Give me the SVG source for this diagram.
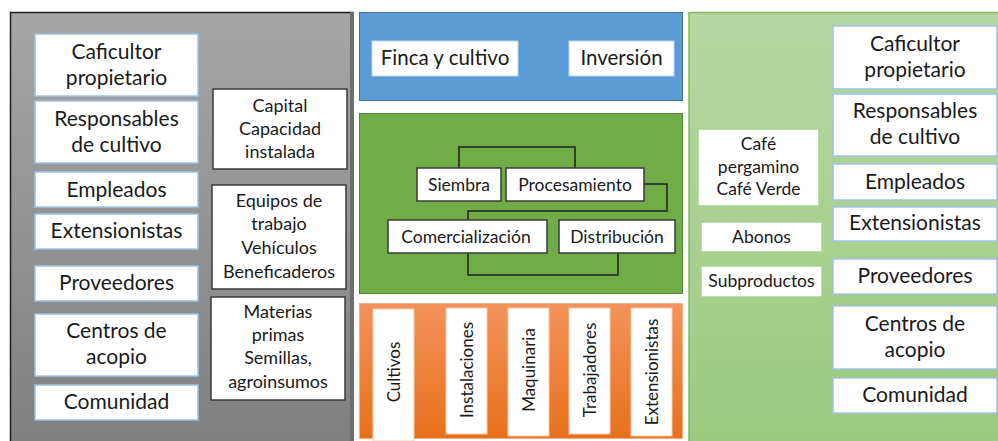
<svg xmlns="http://www.w3.org/2000/svg" width="998" height="441" viewBox="0 0 998 441">
<defs>
<linearGradient id="gGray" x1="0" y1="0" x2="0" y2="1"><stop offset="0" stop-color="#a6a6a6"/><stop offset="1" stop-color="#7f7f7f"/></linearGradient>
<linearGradient id="gOrange" x1="0" y1="0" x2="0" y2="1"><stop offset="0" stop-color="#f3935a"/><stop offset="1" stop-color="#e8701c"/></linearGradient>
<linearGradient id="gLight" x1="0" y1="0" x2="0" y2="1"><stop offset="0" stop-color="#b5d7a2"/><stop offset="1" stop-color="#9cc97e"/></linearGradient>
</defs>
<style>
text{font-family:Lato,"Liberation Sans",sans-serif;fill:#1a1a1a;text-anchor:middle}
.big{font-size:21px}
.sm{font-size:18px}
.rs{font-size:17.5px}
.md{font-size:20.5px}
.gr{font-size:17.5px}
.vt{font-size:17px}
.bb{fill:#fff;stroke:#9dc3e6;stroke-width:1.5}
.db{fill:#fff;stroke:#3a3a3a;stroke-width:1.5}
.lb{fill:#fff;stroke:#bdd7ee;stroke-width:1}
.ob{fill:#fff;stroke:#f8cbad;stroke-width:1}
.gb{fill:#fff;stroke:#a9d18e;stroke-width:1.5}
.conn{fill:none;stroke:#1e1e1e;stroke-width:1.5}
</style>
<rect width="998" height="441" fill="#fff"/>
<!-- panels -->
<g id="panel-left"><rect x="10.5" y="12.5" width="342" height="440" fill="url(#gGray)" stroke="#1e1e1e" stroke-width="1.5"/><rect x="350" y="12" width="4" height="429" fill="#6e6e6e"/></g>
<g id="panel-blue"><rect x="359.5" y="12.5" width="323" height="88" fill="#5b9bd5" stroke="#41719c" stroke-width="1"/></g>
<g id="panel-green"><rect x="359.5" y="113.5" width="323" height="180" fill="#70ad47" stroke="#548235" stroke-width="1"/></g>
<g id="panel-orange"><rect x="359.5" y="303.5" width="323" height="135" fill="url(#gOrange)" stroke="#f4b183" stroke-width="1"/></g>
<g id="panel-right"><rect x="689" y="12.5" width="320" height="440" fill="url(#gLight)" stroke="#7fb95b" stroke-width="1.5"/></g>

<!-- left panel nodes -->
<g id="l-caficultor"><rect class="bb" x="35" y="34" width="163" height="62"/><text class="big" x="116.5" y="59">Caficultor</text><text class="big" x="116.5" y="85">propietario</text></g>
<g id="l-responsables"><rect class="bb" x="35" y="101" width="163" height="62"/><text class="big" x="116.5" y="126">Responsables</text><text class="big" x="116.5" y="152">de cultivo</text></g>
<g id="l-empleados"><rect class="bb" x="35" y="172" width="163" height="35"/><text class="big" x="116.5" y="197">Empleados</text></g>
<g id="l-extensionistas"><rect class="bb" x="35" y="214" width="163" height="35"/><text class="big" x="116.5" y="238">Extensionistas</text></g>
<g id="l-proveedores"><rect class="bb" x="35" y="266" width="163" height="35"/><text class="big" x="116.5" y="290">Proveedores</text></g>
<g id="l-centros"><rect class="bb" x="35" y="314" width="163" height="62"/><text class="big" x="116.5" y="338">Centros de</text><text class="big" x="116.5" y="364">acopio</text></g>
<g id="l-comunidad"><rect class="bb" x="35" y="385" width="163" height="35"/><text class="big" x="116.5" y="409">Comunidad</text></g>

<g id="l-capital"><rect class="db" x="213" y="89" width="134" height="80"/><text class="sm" x="280" y="112">Capital</text><text class="sm" x="280" y="135">Capacidad</text><text class="sm" x="280" y="158">instalada</text></g>
<g id="l-equipos"><rect class="db" x="212" y="185" width="134" height="104"/><text class="sm" x="279" y="207">Equipos de</text><text class="sm" x="279" y="230">trabajo</text><text class="sm" x="279" y="254">Vehículos</text><text class="sm" x="279" y="278">Beneficaderos</text></g>
<g id="l-materias"><rect class="db" x="211" y="297" width="134" height="103"/><text class="sm" x="278" y="318">Materias</text><text class="sm" x="278" y="341">primas</text><text class="sm" x="278" y="364">Semillas,</text><text class="sm" x="278" y="388">agroinsumos</text></g>

<!-- blue panel nodes -->
<g id="m-finca"><rect class="lb" x="372" y="41" width="146" height="35"/><text class="md" x="445" y="65">Finca y cultivo</text></g>
<g id="m-inversion"><rect class="lb" x="569" y="41" width="105" height="35"/><text class="md" x="621.5" y="65">Inversión</text></g>

<!-- connectors -->
<g id="connectors">
<polyline class="conn" points="459,168 459,147 575,147 575,168"/>
<polyline class="conn" points="644,184 667,184 667,211 468,211 468,220"/>
<polyline class="conn" points="468,253 468,275 618,275 618,253"/>
</g>

<!-- green panel nodes -->
<g id="m-siembra"><rect class="db" x="417" y="168" width="84" height="33"/><text class="gr" x="459" y="190.5">Siembra</text></g>
<g id="m-procesamiento"><rect class="db" x="506" y="168" width="138" height="33"/><text class="gr" x="575" y="190.5">Procesamiento</text></g>
<g id="m-comercializacion"><rect class="db" x="388" y="220" width="159" height="33"/><text class="gr" x="466" y="242.5">Comercialización</text></g>
<g id="m-distribucion"><rect class="db" x="559" y="220" width="116" height="33"/><text class="gr" x="617" y="242.5">Distribución</text></g>

<!-- orange panel nodes -->
<g id="o-cultivos"><rect class="ob" x="373" y="309" width="41" height="132"/><text class="vt" transform="translate(399.5,372) rotate(-90)">Cultivos</text></g>
<g id="o-instalaciones"><rect class="ob" x="446" y="308" width="41" height="126"/><text class="vt" transform="translate(472.5,370) rotate(-90)">Instalaciones</text></g>
<g id="o-maquinaria"><rect class="ob" x="508" y="308" width="41" height="128"/><text class="vt" transform="translate(534.5,370) rotate(-90)">Maquinaria</text></g>
<g id="o-trabajadores"><rect class="ob" x="569" y="308" width="41" height="126"/><text class="vt" transform="translate(595.5,370) rotate(-90)">Trabajadores</text></g>
<g id="o-extensionistas"><rect class="ob" x="631" y="308" width="41" height="128"/><text class="vt" transform="translate(657.5,372) rotate(-90)">Extensionistas</text></g>

<!-- right panel nodes -->
<g id="r-cafe"><rect class="gb" x="698" y="129" width="121" height="77"/><text class="rs" x="758.5" y="150">Café</text><text class="rs" x="758.5" y="173">pergamino</text><text class="rs" x="758.5" y="195">Café Verde</text></g>
<g id="r-abonos"><rect class="gb" x="701" y="222" width="121" height="30"/><text class="rs" x="761.5" y="243">Abonos</text></g>
<g id="r-subproductos"><rect class="gb" x="701" y="266" width="121" height="31"/><text class="rs" x="761.5" y="287">Subproductos</text></g>

<g id="r-caficultor"><rect class="bb" x="833" y="26" width="164" height="63"/><text class="big" x="915" y="51">Caficultor</text><text class="big" x="915" y="77">propietario</text></g>
<g id="r-responsables"><rect class="bb" x="833" y="94" width="164" height="62"/><text class="big" x="915" y="118">Responsables</text><text class="big" x="915" y="144">de cultivo</text></g>
<g id="r-empleados"><rect class="bb" x="833" y="164" width="164" height="36"/><text class="big" x="915" y="189">Empleados</text></g>
<g id="r-extensionistas"><rect class="bb" x="833" y="207" width="164" height="34"/><text class="big" x="915" y="230">Extensionistas</text></g>
<g id="r-proveedores"><rect class="bb" x="833" y="259" width="164" height="35"/><text class="big" x="915" y="283">Proveedores</text></g>
<g id="r-centros"><rect class="bb" x="833" y="306" width="164" height="63"/><text class="big" x="915" y="331">Centros de</text><text class="big" x="915" y="357">acopio</text></g>
<g id="r-comunidad"><rect class="bb" x="833" y="378" width="164" height="35"/><text class="big" x="915" y="402">Comunidad</text></g>
</svg>
